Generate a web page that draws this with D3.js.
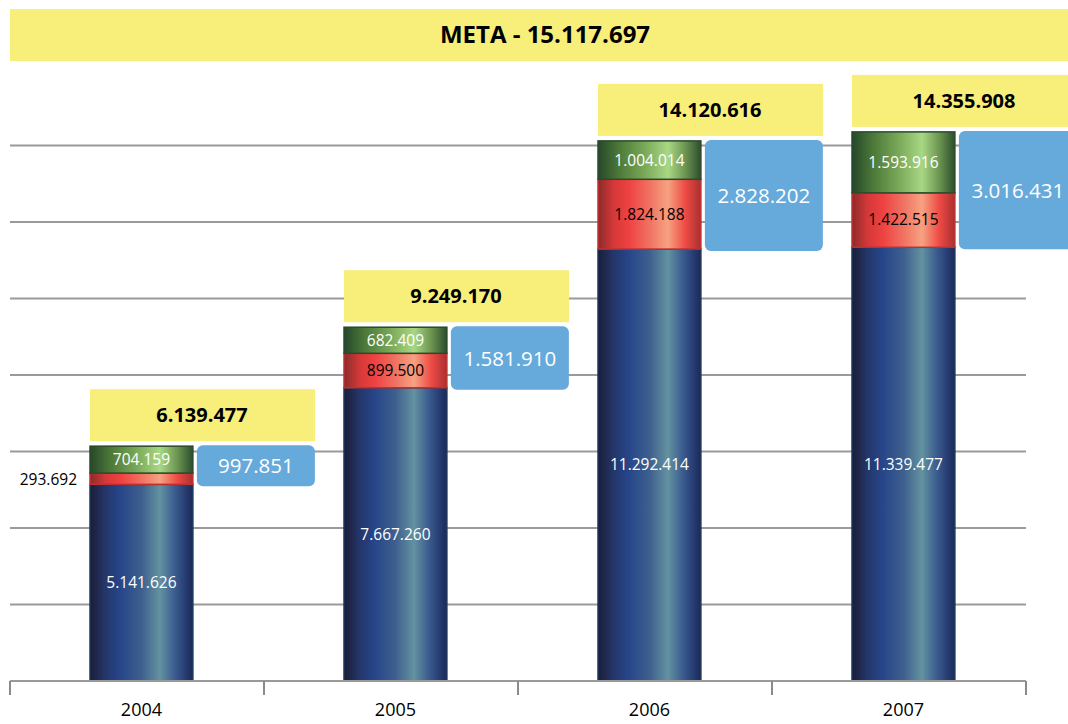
<!DOCTYPE html>
<html>
<head>
<meta charset="utf-8">
<script src="https://cdn.jsdelivr.net/npm/d3@7"></script>
<style>
  body { margin: 0; background: #fff; }
  text { font-family: "Open Sans", "Liberation Sans", sans-serif; }
</style>
</head>
<body>
<div id="chart"></div>
<script>
const years = ["2004", "2005", "2006", "2007"];
const baseVals = [5141626, 7667260, 11292414, 11339477];
const redVals = [293692, 899500, 1824188, 1422515];
const greenVals = [704159, 682409, 1004014, 1593916];
const totalLabels = ["6.139.477", "9.249.170", "14.120.616", "14.355.908"];
const extraLabels = ["997.851", "1.581.910", "2.828.202", "3.016.431"];
const title = "META - 15.117.697";
const yTicks = [0, 2e6, 4e6, 6e6, 8e6, 10e6, 12e6, 14e6];

const width = 1068, height = 724;
const fmt = v => d3.format(",")(v).replace(/,/g, ".");

const svg = d3.select("#chart").append("svg")
  .attr("width", width)
  .attr("height", height);

const x = d3.scaleBand().domain(years).range([10, 1026]).padding(0);
const y = d3.scaleLinear().domain([0, 14e6]).range([681, 145.5]);

const bw = x.bandwidth();
const barX = d => x(d) + bw * 0.315;
const barW = bw * 0.405;

// gradients
const defs = svg.append("defs");
function grad(id, stops) {
  const g = defs.append("linearGradient").attr("id", id)
    .attr("x1", "0%").attr("x2", "100%").attr("y1", "0%").attr("y2", "0%");
  stops.forEach(s => g.append("stop").attr("offset", s[0]).attr("stop-color", s[1]));
}
grad("gBlue", [["0%", "#1b1d35"], ["15%", "#24366a"], ["30%", "#27468a"], ["50%", "#3e5f8e"], ["68%", "#6392a0"], ["82%", "#3c5d90"], ["95%", "#22366c"], ["100%", "#1f2a4e"]]);
grad("gRed", [["0%", "#8a2b2b"], ["15%", "#d53838"], ["30%", "#ee4242"], ["50%", "#f07262"], ["68%", "#f6a282"], ["85%", "#ee4a44"], ["100%", "#a83030"]]);
grad("gGreen", [["0%", "#26472b"], ["20%", "#4c7838"], ["45%", "#79a858"], ["68%", "#a8d884"], ["85%", "#6b9450"], ["100%", "#2c4d2e"]]);

// title box
svg.append("rect").attr("x", 10).attr("y", 9).attr("width", width - 10).attr("height", 52)
  .attr("fill", "#f8ee7a");
svg.append("text").attr("x", 545).attr("y", 35).attr("dy", "0.35em")
  .attr("text-anchor", "middle").attr("font-size", 24).attr("font-weight", "bold")
  .attr("fill", "#000").text(title);

// gridlines
svg.append("g").selectAll("line")
  .data(yTicks.slice(1))
  .join("line")
  .attr("x1", 10).attr("x2", 1026)
  .attr("y1", d => y(d)).attr("y2", d => y(d))
  .attr("stroke", "#9a9a9a").attr("stroke-width", 2);

// stacked data
const data = years.map((yr, i) => ({
  year: yr, base: baseVals[i], red: redVals[i], green: greenVals[i], i
}));
const stack = d3.stack().keys(["base", "red", "green"])(data);
const fills = { base: "url(#gBlue)", red: "url(#gRed)", green: "url(#gGreen)" };
const strokes = { base: "#1c3660", red: "#c03030", green: "#2a4a2c" };

stack.forEach(layer => {
  svg.append("g").selectAll("rect")
    .data(layer)
    .join("rect")
    .attr("x", d => barX(d.data.year))
    .attr("width", barW)
    .attr("y", d => y(d[1]))
    .attr("height", d => y(d[0]) - y(d[1]))
    .attr("fill", fills[layer.key])
    .attr("stroke", strokes[layer.key])
    .attr("stroke-width", 1.5);
});

// segment labels
const labColor = { base: "#ffffff", red: "#000000", green: "#ffffff" };
const outside = (key, d) => key === "red" && d.data.i === 0;
stack.forEach(layer => {
  svg.append("g").selectAll("text")
    .data(layer)
    .join("text")
    .attr("x", d => outside(layer.key, d) ? barX(d.data.year) - 13 : barX(d.data.year) + barW / 2)
    .attr("y", d => outside(layer.key, d) ? y(d[0]) - 5 : (y(d[0]) + y(d[1])) / 2)
    .attr("dy", "0.35em")
    .attr("text-anchor", d => outside(layer.key, d) ? "end" : "middle")
    .attr("font-size", 15.5)
    .attr("fill", d => outside(layer.key, d) ? "#000" : labColor[layer.key])
    .text(d => fmt(d.data[layer.key]));
});

// total boxes (yellow)
const tg = svg.append("g").selectAll("g")
  .data(data)
  .join("g");
tg.append("rect")
  .attr("x", d => barX(d.year))
  .attr("y", d => y(d.base + d.red + d.green) - 57)
  .attr("width", 225)
  .attr("height", 52)
  .attr("fill", "#f8ee7a");
tg.append("text")
  .attr("x", d => barX(d.year) + 112)
  .attr("y", d => y(d.base + d.red + d.green) - 31)
  .attr("dy", "0.35em")
  .attr("text-anchor", "middle")
  .attr("font-size", 20).attr("font-weight", "bold").attr("fill", "#000")
  .text((d, i) => totalLabels[i]);

// extra boxes (blue) spanning the red + green part
const eg = svg.append("g").selectAll("g")
  .data(data)
  .join("g");
eg.append("rect")
  .attr("x", d => barX(d.year) + barW + 4)
  .attr("y", d => y(d.base + d.red + d.green) - 1)
  .attr("width", 118)
  .attr("height", d => y(d.base) - y(d.base + d.red + d.green) + 3)
  .attr("rx", 6)
  .attr("fill", "#66aadb");
eg.append("text")
  .attr("x", d => barX(d.year) + barW + 63)
  .attr("y", d => (y(d.base) + y(d.base + d.red + d.green)) / 2 + 1)
  .attr("dy", "0.35em")
  .attr("text-anchor", "middle")
  .attr("font-size", 20.5).attr("fill", "#fff")
  .text((d, i) => extraLabels[i]);

// x axis
const xAxis = svg.append("g");
xAxis.append("line").attr("x1", 10).attr("x2", 1026).attr("y1", 681).attr("y2", 681)
  .attr("stroke", "#9a9a9a").attr("stroke-width", 2);
xAxis.selectAll("line.tick")
  .data(years.concat(["end"]))
  .join("line")
  .attr("class", "tick")
  .attr("x1", d => d === "end" ? 1026 : x(d))
  .attr("x2", d => d === "end" ? 1026 : x(d))
  .attr("y1", 681).attr("y2", 695)
  .attr("stroke", "#8a8a8a").attr("stroke-width", 2);
xAxis.selectAll("text")
  .data(years)
  .join("text")
  .attr("x", d => barX(d) + barW / 2)
  .attr("y", 710)
  .attr("dy", "0.35em")
  .attr("text-anchor", "middle")
  .attr("font-size", 18).attr("fill", "#000")
  .text(d => d);
</script>
</body>
</html>
